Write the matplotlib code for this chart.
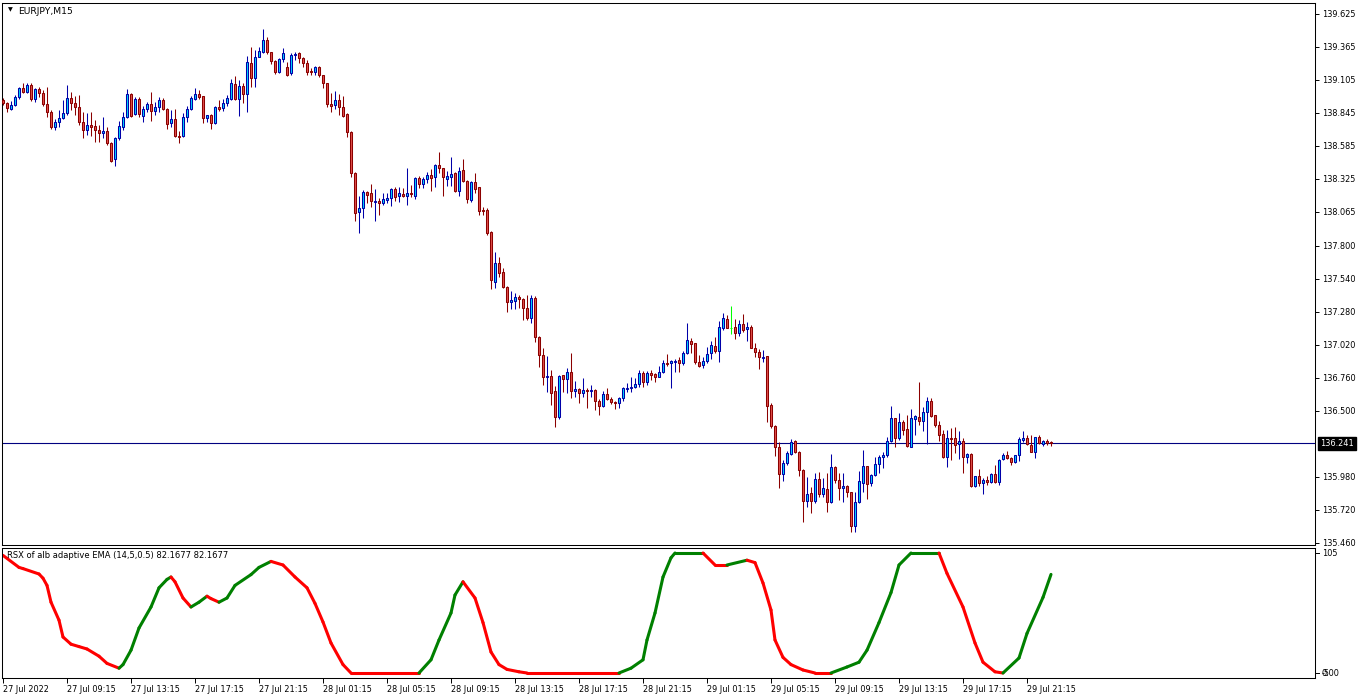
import matplotlib
matplotlib.use("Agg")
import matplotlib.pyplot as plt
from matplotlib.collections import LineCollection
from matplotlib.patches import Rectangle
from matplotlib.transforms import blended_transform_factory

# ---------------- data (EURJPY M15) ----------------
opens = [
 138.947, 138.923, 138.876, 138.908, 138.971, 139.042, 139.010, 139.065, 138.955, 139.034,
 139.002, 138.915, 138.852, 138.735, 138.774, 138.806, 138.845, 138.963, 138.923, 138.892,
 138.774, 138.711, 138.750, 138.743, 138.711, 138.687, 138.703, 138.608, 138.482, 138.648,
 138.735, 138.813, 138.994, 138.837, 138.955, 138.821, 138.876, 138.915, 138.860, 138.892,
 138.947, 138.876, 138.766, 138.798, 138.664, 138.664, 138.813, 138.876, 138.955, 138.994,
 138.978, 138.806, 138.829, 138.766, 138.892, 138.884, 138.923, 138.955, 139.073, 138.955,
 139.057, 138.994, 139.238, 139.121, 139.286, 139.325, 139.420, 139.325, 139.254, 139.168,
 139.270, 139.207, 139.160, 139.301, 139.317, 139.278, 139.238, 139.176, 139.168, 139.207,
 139.144, 139.081, 138.915, 138.908, 138.947, 138.892, 138.837, 138.695, 138.372, 138.065,
 138.096, 138.222, 138.214, 138.143, 138.151, 138.136, 138.159, 138.175, 138.246, 138.191,
 138.206, 138.191, 138.214, 138.191, 138.333, 138.285, 138.325, 138.356, 138.340, 138.435,
 138.411, 138.325, 138.340, 138.372, 138.230, 138.396, 138.309, 138.159, 138.301, 138.262,
 138.080, 138.080, 137.907, 137.513, 137.663, 137.592, 137.474, 137.356, 137.364, 137.395,
 137.380, 137.309, 137.230, 137.387, 137.080, 136.938, 136.765, 136.773, 136.655, 136.450,
 136.781, 136.749, 136.804, 136.655, 136.670, 136.639, 136.662, 136.655, 136.662, 136.576,
 136.537, 136.631, 136.592, 136.568, 136.560, 136.600, 136.670, 136.678, 136.686, 136.710,
 136.796, 136.725, 136.796, 136.788, 136.765, 136.804, 136.875, 136.875, 136.883, 136.899,
 136.875, 136.954, 137.048, 137.032, 136.883, 136.860, 136.891, 136.954, 137.009, 136.970,
 137.151, 137.222, 137.151, 137.159, 137.112, 137.183, 137.143, 137.159, 136.993, 136.962,
 136.914, 136.930, 136.545, 136.379, 136.213, 136.001, 136.087, 136.158, 136.260, 136.174,
 136.032, 135.788, 135.851, 135.788, 135.961, 135.843, 135.882, 135.780, 136.056, 135.953,
 135.890, 135.906, 135.859, 135.591, 135.780, 135.930, 136.064, 135.930, 135.993, 136.079,
 136.135, 136.150, 136.260, 136.442, 136.284, 136.410, 136.355, 136.213, 136.434, 136.450,
 136.418, 136.489, 136.576, 136.466, 136.387, 136.316, 136.135, 136.284, 136.284, 136.237,
 136.260, 136.135, 136.158, 135.906, 135.985, 135.930, 135.953, 135.938, 136.001, 135.938,
 136.119, 136.150, 136.127, 136.095, 136.150, 136.268, 136.284, 136.229, 136.174, 136.292,
 136.237, 136.260, 136.253]

highs = [
 138.963, 138.931, 138.939, 138.986, 139.050, 139.081, 139.081, 139.081, 139.042, 139.050,
 139.026, 139.050, 138.868, 138.798, 138.868, 138.947, 139.065, 139.010, 138.978, 138.986,
 138.852, 138.845, 138.852, 138.790, 138.750, 138.813, 138.735, 138.616, 138.656, 138.782,
 138.852, 139.034, 139.002, 138.971, 138.971, 138.900, 138.931, 139.010, 138.931, 138.971,
 138.963, 138.884, 138.868, 138.876, 138.703, 138.845, 138.900, 138.978, 139.042, 139.026,
 138.978, 138.829, 138.837, 138.900, 138.947, 138.955, 138.986, 139.113, 139.136, 139.105,
 139.081, 139.294, 139.364, 139.341, 139.364, 139.507, 139.444, 139.325, 139.262, 139.278,
 139.357, 139.246, 139.317, 139.325, 139.325, 139.286, 139.262, 139.199, 139.215, 139.215,
 139.144, 139.081, 139.002, 139.018, 138.994, 138.978, 138.845, 138.703, 138.380, 138.191,
 138.238, 138.230, 138.285, 138.246, 138.175, 138.214, 138.214, 138.254, 138.262, 138.262,
 138.254, 138.411, 138.278, 138.340, 138.348, 138.340, 138.380, 138.404, 138.443, 138.537,
 138.411, 138.388, 138.498, 138.380, 138.419, 138.482, 138.317, 138.309, 138.372, 138.262,
 138.104, 138.096, 137.915, 137.749, 137.710, 137.623, 137.482, 137.442, 137.427, 137.411,
 137.387, 137.411, 137.411, 137.403, 137.088, 136.993, 136.930, 136.820, 136.694, 136.781,
 136.781, 136.836, 136.954, 136.733, 136.678, 136.757, 136.678, 136.702, 136.670, 136.592,
 136.655, 136.678, 136.608, 136.576, 136.608, 136.686, 136.718, 136.765, 136.757, 136.820,
 136.812, 136.812, 136.820, 136.796, 136.852, 136.899, 136.946, 136.899, 136.907, 136.922,
 136.970, 137.190, 137.072, 137.032, 136.938, 136.922, 137.001, 137.048, 137.080, 137.206,
 137.269, 137.254, 137.325, 137.222, 137.214, 137.262, 137.198, 137.175, 137.032, 136.986,
 136.977, 136.930, 136.560, 136.387, 136.253, 136.111, 136.182, 136.276, 136.268, 136.182,
 136.040, 135.977, 135.898, 136.009, 136.017, 135.969, 136.009, 136.158, 136.064, 136.009,
 136.009, 135.914, 135.859, 135.859, 136.024, 136.190, 136.064, 136.001, 136.135, 136.150,
 136.174, 136.292, 136.536, 136.442, 136.481, 136.426, 136.466, 136.513, 136.466, 136.726,
 136.529, 136.608, 136.600, 136.466, 136.418, 136.347, 136.347, 136.363, 136.371, 136.339,
 136.284, 136.166, 136.166, 135.985, 136.040, 135.969, 135.985, 136.009, 136.072, 136.119,
 136.166, 136.182, 136.135, 136.150, 136.292, 136.339, 136.308, 136.308, 136.292, 136.308,
 136.268, 136.276, 136.260]

lows = [
 138.908, 138.852, 138.868, 138.900, 138.955, 139.002, 139.002, 138.939, 138.931, 138.971,
 138.900, 138.813, 138.719, 138.711, 138.735, 138.798, 138.829, 138.868, 138.829, 138.750,
 138.648, 138.672, 138.664, 138.616, 138.616, 138.648, 138.593, 138.459, 138.427, 138.632,
 138.711, 138.806, 138.813, 138.829, 138.813, 138.774, 138.852, 138.782, 138.829, 138.852,
 138.868, 138.719, 138.735, 138.656, 138.608, 138.656, 138.774, 138.868, 138.947, 138.955,
 138.766, 138.774, 138.719, 138.758, 138.860, 138.860, 138.900, 138.947, 138.947, 138.821,
 138.923, 138.852, 139.050, 139.050, 139.286, 139.317, 139.309, 139.231, 139.152, 139.160,
 139.246, 139.136, 139.144, 139.262, 139.238, 139.207, 139.144, 139.144, 139.144, 139.129,
 139.042, 138.892, 138.852, 138.876, 138.829, 138.813, 138.656, 138.341, 137.994, 137.899,
 138.018, 138.136, 138.104, 137.994, 138.041, 138.120, 138.136, 138.112, 138.151, 138.143,
 138.183, 138.120, 138.183, 138.167, 138.254, 138.254, 138.293, 138.230, 138.262, 138.372,
 138.191, 138.270, 138.270, 138.222, 138.191, 138.301, 138.136, 138.143, 138.214, 138.041,
 138.041, 137.883, 137.458, 137.466, 137.552, 137.466, 137.277, 137.301, 137.301, 137.309,
 137.214, 137.214, 137.190, 137.041, 136.843, 136.702, 136.647, 136.545, 136.371, 136.434,
 136.647, 136.639, 136.600, 136.608, 136.560, 136.608, 136.521, 136.608, 136.505, 136.466,
 136.529, 136.584, 136.552, 136.513, 136.521, 136.576, 136.647, 136.647, 136.678, 136.686,
 136.686, 136.702, 136.741, 136.725, 136.765, 136.796, 136.852, 136.678, 136.804, 136.804,
 136.860, 136.946, 136.954, 136.867, 136.844, 136.836, 136.875, 136.907, 136.954, 136.883,
 137.135, 137.151, 137.104, 137.064, 137.088, 137.120, 137.048, 136.993, 136.922, 136.828,
 136.883, 136.410, 136.363, 136.143, 135.890, 135.945, 136.072, 136.150, 136.166, 135.985,
 135.622, 135.741, 135.693, 135.772, 135.819, 135.819, 135.701, 135.772, 135.930, 135.796,
 135.780, 135.819, 135.543, 135.543, 135.772, 135.859, 135.804, 135.906, 135.985, 136.009,
 136.048, 136.135, 136.253, 136.213, 136.268, 136.308, 136.213, 136.213, 136.308, 136.387,
 136.339, 136.237, 136.450, 136.371, 136.260, 136.127, 136.056, 136.111, 136.166, 136.119,
 136.009, 136.087, 135.898, 135.898, 135.906, 135.843, 135.914, 135.930, 135.930, 135.914,
 136.111, 136.119, 136.072, 136.087, 136.103, 136.253, 136.229, 136.174, 136.127, 136.237,
 136.221, 136.229, 136.221]

closes = [
 138.923, 138.884, 138.908, 138.971, 139.042, 139.010, 139.065, 138.955, 139.034, 139.002,
 138.915, 138.852, 138.735, 138.774, 138.806, 138.845, 138.963, 138.923, 138.892, 138.774,
 138.711, 138.750, 138.735, 138.711, 138.687, 138.703, 138.608, 138.466, 138.648, 138.743,
 138.813, 138.994, 138.821, 138.955, 138.837, 138.876, 138.915, 138.860, 138.892, 138.947,
 138.876, 138.758, 138.798, 138.664, 138.656, 138.813, 138.876, 138.963, 138.994, 138.971,
 138.806, 138.829, 138.766, 138.892, 138.876, 138.923, 138.963, 139.081, 138.955, 139.057,
 138.994, 139.246, 139.121, 139.286, 139.333, 139.420, 139.325, 139.254, 139.168, 139.270,
 139.317, 139.144, 139.301, 139.309, 139.278, 139.238, 139.168, 139.168, 139.207, 139.144,
 139.081, 138.915, 138.900, 138.947, 138.892, 138.821, 138.695, 138.372, 138.057, 138.096,
 138.222, 138.199, 138.151, 138.151, 138.136, 138.167, 138.175, 138.246, 138.183, 138.214,
 138.191, 138.214, 138.206, 138.333, 138.285, 138.325, 138.356, 138.333, 138.435, 138.411,
 138.340, 138.348, 138.364, 138.230, 138.388, 138.309, 138.167, 138.301, 138.246, 138.073,
 138.073, 137.899, 137.529, 137.663, 137.584, 137.474, 137.356, 137.371, 137.395, 137.380,
 137.309, 137.230, 137.387, 137.080, 136.938, 136.765, 136.773, 136.639, 136.450, 136.773,
 136.749, 136.804, 136.655, 136.670, 136.639, 136.662, 136.655, 136.662, 136.576, 136.537,
 136.631, 136.592, 136.568, 136.560, 136.600, 136.678, 136.678, 136.686, 136.710, 136.796,
 136.725, 136.796, 136.781, 136.765, 136.804, 136.875, 136.867, 136.891, 136.891, 136.875,
 136.954, 137.056, 137.024, 136.883, 136.852, 136.891, 136.946, 137.017, 136.970, 137.159,
 137.230, 137.151, 137.151, 137.112, 137.183, 137.135, 137.159, 136.993, 136.962, 136.922,
 136.922, 136.537, 136.379, 136.213, 136.001, 136.087, 136.166, 136.252, 136.174, 136.032,
 135.788, 135.843, 135.788, 135.961, 135.843, 135.890, 135.780, 136.056, 135.953, 135.890,
 135.906, 135.859, 135.591, 135.780, 135.945, 136.064, 135.922, 135.993, 136.079, 136.135,
 136.150, 136.260, 136.442, 136.284, 136.410, 136.347, 136.221, 136.442, 136.458, 136.418,
 136.489, 136.576, 136.458, 136.387, 136.308, 136.135, 136.284, 136.276, 136.229, 136.260,
 136.135, 136.158, 135.906, 135.985, 135.930, 135.953, 135.938, 136.001, 135.938, 136.111,
 136.150, 136.127, 136.095, 136.150, 136.276, 136.284, 136.237, 136.174, 136.292, 136.245,
 136.260, 136.245, 136.241]

time_label_bars = [0, 16, 32, 48, 64, 80, 96, 112, 128, 144, 160, 176, 192, 208, 224, 240, 256]
time_labels = ["27 Jul 2022", "27 Jul 09:15", "27 Jul 13:15", "27 Jul 17:15", "27 Jul 21:15",
               "28 Jul 01:15", "28 Jul 05:15", "28 Jul 09:15", "28 Jul 13:15", "28 Jul 17:15",
               "28 Jul 21:15", "29 Jul 01:15", "29 Jul 05:15", "29 Jul 09:15", "29 Jul 13:15",
               "29 Jul 17:15", "29 Jul 21:15"]

price_ticks = [139.625, 139.365, 139.105, 138.845, 138.585, 138.325, 138.065, 137.800,
               137.540, 137.280, 137.020, 136.760, 136.500, 135.980, 135.720, 135.460]
last_price = 136.241

# RSX indicator, read at bar positions
rsx_bars = [0, 4, 5, 9, 10, 11, 12, 14, 15, 17, 19, 21, 24, 26, 29, 30, 32, 34, 37, 39,
            41, 42, 43, 45, 47, 49, 51, 52, 54, 56, 58, 62, 64, 67, 70, 73, 76, 78, 80, 82,
            85, 87, 104, 107, 109, 112, 113, 115, 118, 120, 122, 124, 126, 129, 131, 154, 157, 160,
            161, 163, 165, 167, 168, 175, 178, 181, 186, 188, 190, 192, 193, 195, 197, 200,
            203, 207, 211, 214, 216, 219, 222, 224, 227, 234, 236, 240, 243, 245, 248, 250,
            254, 256, 260, 262]
rsx_values = [98, 88, 87, 82.5, 79, 73, 59, 44, 30, 24, 22, 20, 14, 8, 4, 7, 19, 37.5, 55, 71,
              78, 80, 76, 62.5, 55, 59, 64, 62, 59, 62.5, 73, 82, 88, 93, 90, 80, 71, 58, 42.5, 25,
              7, 0, 0, 11, 27.5, 50, 65, 76, 62.5, 42, 17.5, 7, 3, 1, 0, 0, 4, 11,
              27.5, 50, 80, 96, 100, 100, 90, 90, 94, 92, 75, 52.5, 27.5, 13, 7, 2.5,
              0, 0, 5, 9, 19, 42, 67, 90, 100, 100, 83, 55, 25, 9, 1, 0,
              12.5, 33, 63, 82.1677]
rsx_min, rsx_max = -5, 105

# ---------------- styling ----------------
W, H = 1362, 700
BULL_EDGE = "#0000A8"
BULL_FACE = "#00D5FF"
BEAR_EDGE = "#8B0000"
BEAR_FACE = "#E0504A"
DOJI = "#00FF00"
FS = 5.9

fig = plt.figure(figsize=(W / 100, H / 100), dpi=100)
fig.patch.set_facecolor("white")


def px_rect(x0, y0, x1, y1):
    return [x0 / W, 1 - y1 / H, (x1 - x0) / W, (y1 - y0) / H]


ax1 = fig.add_axes(px_rect(2, 3, 1315, 545))
ax2 = fig.add_axes(px_rect(2, 548, 1315, 678))

for ax in (ax1, ax2):
    ax.set_facecolor("white")
    for s in ax.spines.values():
        s.set_linewidth(0.75)
        s.set_color("black")

# ---------------- candles ----------------
n = len(closes)
for i in range(n):
    o, h, l, c = opens[i], highs[i], lows[i], closes[i]
    if c > o:
        ec, fc = BULL_EDGE, BULL_FACE
    elif c < o:
        ec, fc = BEAR_EDGE, BEAR_FACE
    else:
        ec, fc = DOJI, DOJI
    ax1.vlines(i, l, h, color=ec, lw=0.75, zorder=2)
    if c == o:
        ax1.hlines(o, i - 0.3, i + 0.3, color=ec, lw=0.75, zorder=3)
    else:
        ax1.add_patch(Rectangle((i - 0.25, min(o, c)), 0.5, abs(c - o),
                                facecolor=fc, edgecolor=ec, lw=0.75, zorder=3))

ax1.axhline(last_price, color="#000080", lw=0.8, zorder=1)

ax1.set_xlim(-0.25, 328)
ax1.set_ylim(135.441, 139.711)
ax1.set_xticks([])
ax1.yaxis.tick_right()
ax1.set_yticks(price_ticks)
ax1.set_yticklabels([f"{p:.3f}" for p in price_ticks])
ax1.tick_params(axis="y", length=2.9, width=0.7, pad=2.2, labelsize=FS, colors="black")

trans1 = blended_transform_factory(ax1.transAxes, ax1.transData)
ax1.text(1.0 + 5 / 1313, last_price, f"{last_price:.3f}", transform=trans1,
         fontsize=FS, color="white", va="center", ha="left",
         bbox=dict(boxstyle="square,pad=0.22", facecolor="black", edgecolor="black"))

fig.text(8 / W, 1 - 10 / H, "\u25BC", fontsize=4.5, va="center", ha="left")
fig.text(18 / W, 1 - 11 / H, "EURJPY,M15", fontsize=6.7, va="center", ha="left")

# ---------------- RSX indicator ----------------
segs, cols = [], []
prev = "#008000"
for k in range(len(rsx_bars) - 1):
    v0, v1 = rsx_values[k], rsx_values[k + 1]
    if v1 > v0:
        col = "#008000"
    elif v1 < v0:
        col = "#FF0000"
    else:
        col = prev
    if k == 0 and v1 < v0:
        col = "#FF0000"
    prev = col
    segs.append([(rsx_bars[k], v0), (rsx_bars[k + 1], v1)])
    cols.append(col)
lc = LineCollection(segs, colors=cols, linewidths=2.2, capstyle="round", joinstyle="round")
ax2.add_collection(lc)

ax2.set_xlim(-0.25, 328)
ax2.set_ylim(-4.17, 104.17)
ax2.set_yticks([])
ax2.set_xticks(time_label_bars)
ax2.set_xticklabels(time_labels)
for lbl in ax2.get_xticklabels():
    lbl.set_horizontalalignment("left")
ax2.tick_params(axis="x", direction="out", length=3.6, width=0.7, pad=1.5,
                labelsize=FS, colors="black")

fig.text(7 / W, 1 - 555 / H, "RSX of alb adaptive EMA (14,5,0.5) 82.1677 82.1677",
         fontsize=6.0, va="center", ha="left")
fig.text(1322 / W, 1 - 553 / H, f"{rsx_max}", fontsize=FS, va="center", ha="left")
fig.text(1322 / W, 1 - 673 / H, "0.00", fontsize=FS, va="center", ha="left")
fig.text(1322 / W, 1 - 673 / H, f"{rsx_min}", fontsize=FS, va="center", ha="left")
for yy in (553, 673):
    fig.add_artist(plt.Line2D([1315 / W, 1319 / W], [1 - yy / H, 1 - yy / H],
                              color="black", lw=0.7))

fig.savefig("out.png", dpi=100)
